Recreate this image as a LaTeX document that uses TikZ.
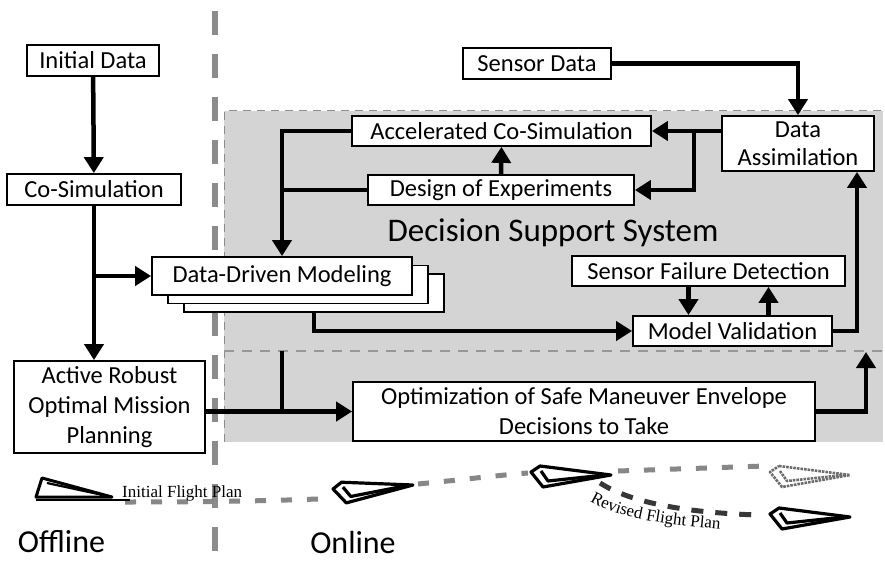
\documentclass[tikz,border=0pt]{standalone}
\usepackage{fontspec}
\setmainfont{Carlito}
\newfontfamily\planfont{Liberation Serif}
\usepackage{xcolor}
\usepackage{tikz}
\usetikzlibrary{arrows.meta}
\usetikzlibrary{decorations.text}
\definecolor{DssGray}{RGB}{212,212,212}
\definecolor{DivGray}{RGB}{140,140,140}
\definecolor{PathGray}{RGB}{135,135,135}
\definecolor{PathDark}{RGB}{55,55,55}
\newcommand{\boxfont}{\fontsize{24.5}{30}\selectfont}
\newcommand{\flightfont}{\planfont\fontsize{17}{20}\selectfont}
\tikzset{
    blk/.style={draw, line width=1.8pt, fill=white, inner sep=0pt, align=center, font=\boxfont},
    flow/.style={line width=4.5pt},
    arr/.style={flow, -{Triangle[width=19pt,length=16pt]}},
    flight/.style={draw=PathGray, line width=5pt, dash pattern=on 11pt off 15pt},
    revised/.style={draw=PathDark, line width=5pt, dash pattern=on 12pt off 12pt},
    solidjet/.style={draw=black, line width=3.2pt, line join=round},
    ghostjet/.style={draw=PathGray!80!black, line width=2.6pt, densely dotted, line join=round},
    jet/.pic={
        \draw[pic actions] (-71,-9) -- (0,0) -- (-68,12) -- (-80,-3) -- cycle;
        \draw[pic actions] (-70,-4) -- (-63,6) -- (-6,0);
    }
}

\begin{document}
\begin{tikzpicture}[x=1pt, y=-1pt]
    \fill[white] (0,0) rectangle (885,563);
    % online decision support area
    \fill[DssGray] (224,108) rectangle (883,439);
    \draw[DivGray, line width=1pt, dash pattern=on 8pt off 6pt] (224,439) -- (224,108) -- (883,108);
    \coordinate (sepL) at (224,348);
    \coordinate (sepR) at (883,348);
    \draw[DivGray!90, line width=2pt, dash pattern=on 10pt off 8pt] (sepL) -- (sepR);
    % offline / online divider
    \draw[DivGray, line width=6pt, dash pattern=on 24pt off 19pt, dash phase=35pt] (215,0) -- (215,563);

    \node[blk, minimum width=132pt, minimum height=31pt] (init) at (93,57.5) {Initial Data};
    \node[blk, minimum width=174pt, minimum height=31pt] (cosim) at (94,186.5) {Co-Simulation};
    \node[blk, minimum width=148pt, minimum height=31pt] (sensor) at (537,60.5) {Sensor Data};
    \node[blk, minimum width=152pt, minimum height=55pt, font=\fontsize{24.5}{28}\selectfont] (assim) at (798,140.5) {Data\\Assimilation};
    \node[blk, minimum width=299pt, minimum height=30pt] (accel) at (501.5,128) {Accelerated Co-Simulation};
    \node[blk, minimum width=266pt, minimum height=30pt] (doe) at (501,187) {Design of Experiments};
    \node[blk, minimum width=260pt, minimum height=38pt] (ddmc) at (314,290) {};
    \node[blk, minimum width=260pt, minimum height=38pt] (ddmb) at (298,281.5) {};
    \node[blk, minimum width=260pt, minimum height=38pt] (ddm) at (282,273) {Data-Driven Modeling};
    \node[blk, minimum width=273pt, minimum height=30pt] (sfd) at (708.5,268) {Sensor Failure Detection};
    \node[blk, minimum width=199pt, minimum height=30pt] (mv) at (732.5,328) {Model Validation};
    \node[blk, minimum width=191pt, minimum height=92pt] (arp) at (109.5,404) {Active Robust\\Optimal Mission\\Planning};
    \node[blk, minimum width=462pt, minimum height=59pt] (opt) at (584,408.5) {Optimization of Safe Maneuver Envelope\\Decisions to Take};
    \node[font=\fontsize{33}{36}\selectfont] (dss) at (553,230) {Decision Support System};
    \node[font=\fontsize{32}{36}\selectfont] (offline) at (61.5,539) {Offline};
    \node[font=\fontsize{32}{36}\selectfont] (online) at (353,539) {Online};

    \draw[arr] (init) -- (cosim);
    \draw[arr] (sensor.east) -| (assim.north);
    \draw[arr] (assim.west |- accel.east) -- (accel.east);
    \coordinate (fork) at (694,128);
    \draw[arr] (fork) |- (doe.east);
    \draw[arr] (doe.north) -- (accel.south);
    \draw[arr] (accel.west) -| (ddm.north);
    \draw[flow] (doe.west) -- (doe.west -| ddm.north);
    \draw[arr] (cosim.south) -- (cosim.south |- arp.north);
    \draw[arr] (cosim.south |- ddm.west) -- (ddm.west);
    \draw[arr] (ddmc.south) |- (mv.west);
    \draw[arr] ([xshift=-20pt]sfd.south) -- ([xshift=-20pt]sfd.south |- mv.north);
    \draw[arr] ([xshift=60pt]sfd.south |- mv.north) -- ([xshift=60pt]sfd.south);
    \draw[arr] (mv.east) -| ([xshift=59pt]assim.south);
    \draw[arr] (arp.east |- opt.west) -- (opt.west);
    \draw[flow] (ddm.north |- sepL) -- (ddm.north |- opt.west);
    \draw[arr] (opt.east) -| ([xshift=-17pt,yshift=-1pt]sepR);

    % flight plans
    \draw[flight] (125,499) .. controls (230,499) and (290,497) .. (318,496);
    \draw[flight] (418,481) .. controls (460,477) and (500,472) .. (528,470);
    \draw[flight] (618,468) -- (765,463);
    \draw[revised] (600,480) .. controls (622,494) and (665,509) .. (758,512);
    \node[font=\flightfont, anchor=base west, inner sep=0pt] (initplan) at (122,494) {Initial Flight Plan};
    \path[decorate, decoration={text along path, text={|\flightfont|Revised Flight Plan}}]
        (590,498) .. controls (615,513) and (650,521) .. (730,527);

    % aircraft
    \draw[line width=3pt, line join=round] (42,475) -- (36,494) -- (112,494) -- cycle;
    \draw[line width=2.2pt] (47,480) -- (98,491);
    \draw[line width=1.4pt] (36,497) -- (130,497);
    \pic[solidjet, rotate=5] at (413,482) {jet};
    \pic[solidjet] at (611,472) {jet};
    \pic[ghostjet] at (850,472) {jet};
    \pic[solidjet] at (850,514) {jet};
\end{tikzpicture}
\end{document}
